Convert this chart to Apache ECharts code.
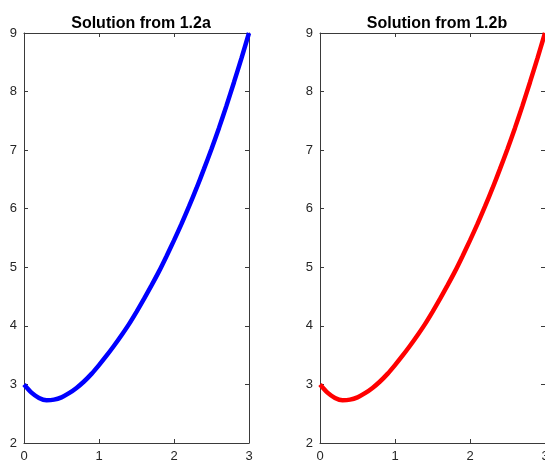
<!DOCTYPE html>
<html>
<head>
<meta charset="utf-8">
<script src="https://cdn.jsdelivr.net/npm/echarts@6/dist/echarts.min.js"></script>
<style>html,body{margin:0;padding:0;background:#fff}#c{width:545px;height:462px}</style>
</head>
<body>
<div id="c"></div>
<script>
const xValues = [0, 0.1, 0.2, 0.3, 0.4, 0.5, 0.6, 0.7, 0.8, 0.9, 1.0, 1.1, 1.2, 1.3, 1.4, 1.5, 1.6, 1.7, 1.8, 1.9, 2.0, 2.1, 2.2, 2.3, 2.4, 2.5, 2.6, 2.7, 2.8, 2.9, 3.0];
const yA = [3.00, 2.86, 2.77, 2.73, 2.74, 2.78, 2.85, 2.94, 3.05, 3.18, 3.33, 3.49, 3.66, 3.84, 4.03, 4.24, 4.46, 4.69, 4.93, 5.19, 5.46, 5.74, 6.04, 6.35, 6.68, 7.02, 7.38, 7.76, 8.16, 8.57, 9.00];
const yB = [3.00, 2.86, 2.77, 2.73, 2.74, 2.78, 2.85, 2.94, 3.05, 3.18, 3.33, 3.49, 3.66, 3.84, 4.03, 4.24, 4.46, 4.69, 4.93, 5.19, 5.46, 5.74, 6.04, 6.35, 6.68, 7.02, 7.38, 7.76, 8.16, 8.57, 9.00];
const titles = ['Solution from 1.2a', 'Solution from 1.2b'];
const xTicks = [0, 3, 1];   // min, max, interval
const yTicks = [2, 9, 1];

const axisColor = '#3a3a3a';
const fontFam = 'Liberation Sans, Arial, sans-serif';
const labelStyle = {color: '#262626', fontSize: 13, fontFamily: fontFam};

function xAx(grid, pos, labels) {
  return {
    type: 'value', gridIndex: grid, position: pos,
    min: xTicks[0], max: xTicks[1], interval: xTicks[2],
    axisLine: {show: true, onZero: false, lineStyle: {color: axisColor, width: 1}},
    axisTick: {show: true, inside: true, length: 4, lineStyle: {color: axisColor}},
    axisLabel: labels ? Object.assign({show: true, margin: 7}, labelStyle) : {show: false},
    splitLine: {show: false}
  };
}
function yAx(grid, pos, labels) {
  return {
    type: 'value', gridIndex: grid, position: pos,
    min: yTicks[0], max: yTicks[1], interval: yTicks[2],
    axisLine: {show: true, onZero: false, lineStyle: {color: axisColor, width: 1}},
    axisTick: {show: true, inside: true, length: 4, lineStyle: {color: axisColor}},
    axisLabel: labels ? Object.assign({show: true, margin: 7}, labelStyle) : {show: false},
    splitLine: {show: false}
  };
}
const toPairs = ys => xValues.map((x, i) => [x, ys[i]]);

const chart = echarts.init(document.getElementById('c'), null, {renderer: 'canvas'});
chart.setOption({
  animation: false,
  backgroundColor: '#ffffff',
  title: [
    {text: titles[0], left: 136, top: 11, textAlign: 'center',
     textStyle: {fontSize: 16, fontWeight: 'bold', color: '#000', fontFamily: fontFam}},
    {text: titles[1], left: 432, top: 11, textAlign: 'center',
     textStyle: {fontSize: 16, fontWeight: 'bold', color: '#000', fontFamily: fontFam}}
  ],
  grid: [
    {left: 24, width: 225, top: 33, height: 410, outerBoundsMode: 'none', containLabel: false},
    {left: 320, width: 225, top: 33, height: 410, outerBoundsMode: 'none', containLabel: false}
  ],
  xAxis: [xAx(0, 'bottom', true), xAx(0, 'top', false), xAx(1, 'bottom', true), xAx(1, 'top', false)],
  yAxis: [yAx(0, 'left', true), yAx(0, 'right', false), yAx(1, 'left', true), yAx(1, 'right', false)],
  series: [
    {type: 'line', xAxisIndex: 0, yAxisIndex: 0, data: toPairs(yA), showSymbol: false, smooth: 0.2, clip: false,
     lineStyle: {color: '#0000ff', width: 4.5}},
    {type: 'line', xAxisIndex: 2, yAxisIndex: 2, data: toPairs(yB), showSymbol: false, smooth: 0.2, clip: false,
     lineStyle: {color: '#ff0000', width: 4.5}}
  ]
});
</script>
</body>
</html>
